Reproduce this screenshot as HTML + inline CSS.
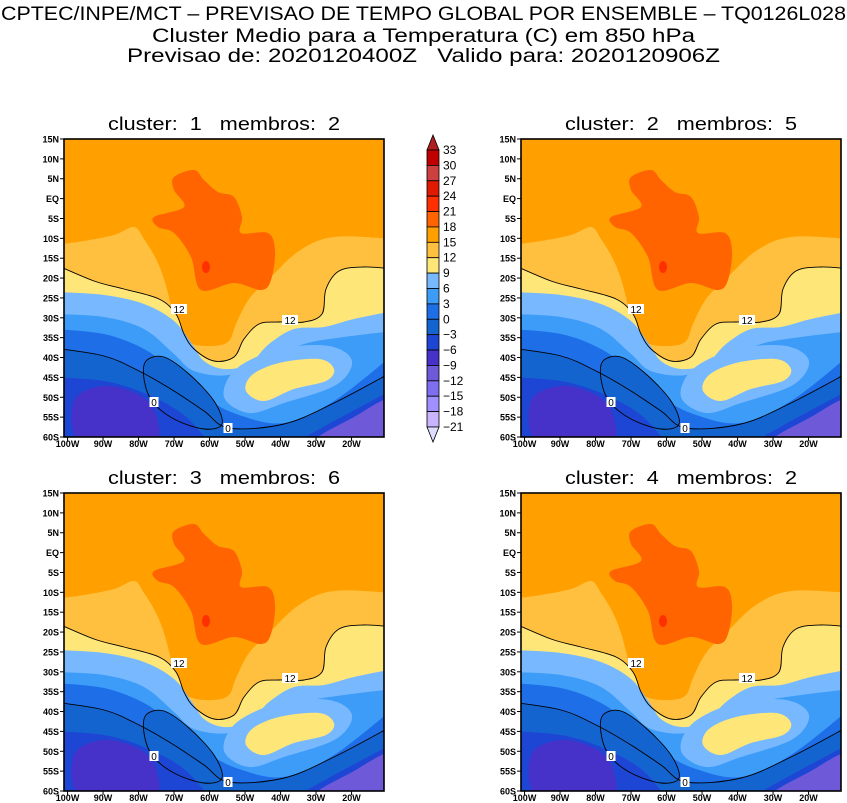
<!DOCTYPE html>
<html><head><meta charset="utf-8"><style>
html,body{margin:0;padding:0;background:#fff;}
svg{display:block;font-family:"Liberation Sans",sans-serif;}
text{white-space:pre;}
</style></head><body>
<svg id="s" width="847" height="803" viewBox="0 0 847 803" xmlns="http://www.w3.org/2000/svg" xml:space="preserve">
<text x="423.5" y="20" text-anchor="middle" font-size="19" textLength="845" lengthAdjust="spacingAndGlyphs">CPTEC/INPE/MCT – PREVISAO DE TEMPO GLOBAL POR ENSEMBLE – TQ0126L028</text>
<text x="423.5" y="42" text-anchor="middle" font-size="19" textLength="543" lengthAdjust="spacingAndGlyphs">Cluster Medio para a Temperatura (C) em 850 hPa</text>
<text x="423.5" y="62" text-anchor="middle" font-size="19" textLength="593" lengthAdjust="spacingAndGlyphs">Previsao de: 2020120400Z   Valido para: 2020120906Z</text>
<g id="panels"></g>
<g id="cbar"></g>
</svg>
<script>
const levels=[33,30,27,24,21,18,15,12,9,6,3,0,-3,-6,-9,-12,-15,-18,-21];
const colors=["#c00000","#cc4040","#e01a00","#ff3000","#ff6400","#ffa000","#ffc040","#ffe678","#78b8ff","#3c9cf8","#1e6ee8","#1464d0","#1e46d4","#4632c8","#6e5ad8","#7e6ef0","#a090ff","#c8b4ff"];
const latTicks=["15N","10N","5N","EQ","5S","10S","15S","20S","25S","30S","35S","40S","45S","50S","55S","60S"];
const lonTicks=["100W","90W","80W","70W","60W","50W","40W","30W","20W"];
const clusters=[1,2,3,4];
const members=[2,5,6,2];
const NS="http://www.w3.org/2000/svg";
function mk(tag,attrs,parent){const e=document.createElementNS(NS,tag);for(const k in attrs)e.setAttribute(k,attrs[k]);if(parent)parent.appendChild(e);return e;}
function smooth(pts,closed){
  let d="M"+pts[0][0]+","+pts[0][1];const n=pts.length;
  for(let i=0;i<(closed?n:n-1);i++){
    const p0=pts[(i-1+n)%n],p1=pts[i],p2=pts[(i+1)%n],p3=pts[(i+2)%n];
    const a=(!closed&&i==0)?p1:p0, b=(!closed&&i+2>=n)?p2:p3;
    d+=" C"+(p1[0]+(p2[0]-a[0])/6).toFixed(1)+","+(p1[1]+(p2[1]-a[1])/6).toFixed(1)+" "+(p2[0]-(b[0]-p1[0])/6).toFixed(1)+","+(p2[1]-(b[1]-p1[1])/6).toFixed(1)+" "+p2[0]+","+p2[1];
  }
  return d+(closed?"Z":"");
}
function below(pts){return smooth(pts,false)+" L330,310 L-10,310 Z";}
const W=320,H=298;
const LO=[[-10,106],[20,102],[50,96],[70,88],[80,100],[92,120],[100,140],[108,170],[115,195],[128,205],[150,207],[165,202],[172,185],[185,160],[205,140],[235,112],[270,98],[330,100]];
const YE=[[-10,125],[30,142],[60,150],[95,160],[112,175],[120,195],[130,210],[150,222],[170,218],[180,200],[195,185],[215,183],[240,183],[258,175],[262,150],[275,132],[300,128],[330,130]];
const LB=[[-10,153],[40,156],[80,165],[110,182],[128,205],[140,222],[160,230],[185,225],[205,205],[230,190],[260,188],[290,180],[330,172]];
const MB=[[-10,175],[40,178],[80,190],[110,215],[130,232],[165,236],[200,222],[240,205],[280,198],[330,192]];
const LBB=[[160,258],[172,230],[215,210],[265,207],[288,222],[272,246],[220,264],[185,274]];
const YB=[[182,252],[188,236],[215,224],[255,220],[270,230],[262,242],[230,250],[200,262]];
const D0=[[-10,190],[40,195],[80,210],[110,232],[140,258],[175,276],[220,284],[270,262],[330,215]];
const DM3=[[-10,209],[40,217],[75,232],[110,252],[140,272],[165,289],[220,285],[270,264],[330,232]];
const LOOP=[[82,222],[100,218],[125,235],[150,262],[158,285],[140,290],[110,280],[88,262],[80,240]];
const DM6=[[-10,238],[40,242],[80,254],[120,276],[150,310]];
const DM6R=[[220,310],[270,282],[330,250]];
const DM9=[[10,262],[40,247],[75,256],[92,276],[88,305],[18,305]];
const DM9R=[[250,305],[290,278],[330,260],[330,305]];
const PUR=[[275,305],[300,284],[330,272],[330,305]];
const OR=[[110,38],[130,31],[140,41],[154,53],[170,58],[178,78],[177,94],[204,94],[211,112],[207,141],[197,151],[170,144],[137,151],[127,118],[110,94],[94,88],[90,78],[120,68],[110,51]];
const pos=[[64,139],[521,139],[64,493],[521,493]];
const panels=document.getElementById("panels");
clusters.forEach((c,i)=>{
  const [ox,oy]=pos[i];
  const g=mk("g",{transform:"translate("+ox+","+oy+")"},panels);
  
  
  const t=mk("text",{x:160,y:-9,"text-anchor":"middle","font-size":"18",textLength:"232",lengthAdjust:"spacingAndGlyphs"},g);
  t.textContent="cluster:  "+c+"   membros:  "+members[i];
  
  
  const cid="cp"+i;
  const cp=mk("clipPath",{id:cid},g);mk("rect",{x:0,y:0,width:W,height:H},cp);
  const m=mk("g",{"clip-path":"url(#"+cid+")"},g);
  
  
  const dy=i>=2?4:0;
  mk("rect",{x:0,y:0,width:W,height:H,fill:colors[5]},m);
  const f=(d,col)=>mk("path",{d:d,fill:col},m);
  f(below(LO),colors[6]);
  f(below(YE.map(p=>[p[0],p[1]+dy])),colors[7]);
  f(below(LB.map(p=>[p[0],p[1]+dy])),colors[8]);
  f(below(MB.map(p=>[p[0],p[1]+dy])),colors[9]);
  f(smooth(LBB,true),colors[8]);
  f(smooth(YB,true),colors[7]);
  f(below(D0),colors[10]);
  f(below(DM3),colors[11]);
  f(smooth(LOOP,true),colors[11]);
  f(below(DM6),colors[12]);
  f(below(DM6R),colors[12]);
  f(smooth(DM9,true),colors[13]);
  f(smooth(DM9R,true),colors[14]);
  f(smooth(PUR,true),colors[14]);
  f(smooth(OR,true),colors[4]);
  mk("ellipse",{cx:142,cy:128,rx:4,ry:6,fill:colors[3]},m);
  mk("path",{d:smooth(YE.map(p=>[p[0],p[1]+dy]),false),fill:"none",stroke:"#000","stroke-width":"0.9"},m);
  mk("path",{d:smooth(DM3,false),fill:"none",stroke:"#000","stroke-width":"0.9"},m);
  mk("path",{d:smooth(LOOP,true),fill:"none",stroke:"#000","stroke-width":"0.9"},m);
  [[115,170,"12"],[226,181+dy,"12"],[90,263,"0"],[164,289,"0"]].forEach(l=>{
    mk("rect",{x:l[0]-(l[2].length*3.5+1),y:l[1]-5,width:l[2].length*7+2,height:10,fill:"#fff"},m);
    const tt=mk("text",{x:l[0],y:l[1]+4,"text-anchor":"middle","font-size":"10"},m);tt.textContent=l[2];
  });
  const fr=mk("rect",{x:0,y:0,width:W,height:H,fill:"none",stroke:"#000","stroke-width":"1.6"},g);
  
  
  latTicks.forEach((lb,k)=>{
    const y=k*(H/15);
    mk("line",{x1:-4,x2:0,y1:y,y2:y,stroke:"#000"},g);
    const tx=mk("text",{x:-5,y:y+3.5,"text-anchor":"end","font-size":"9","font-weight":"bold"},g);tx.textContent=lb;
    
    
  });
  lonTicks.forEach((lb,k)=>{
    const x=(k*10+1)*3.55;
    mk("line",{x1:x,x2:x,y1:H,y2:H+4,stroke:"#000"},g);
    const tx=mk("text",{x:x,y:H+10,"text-anchor":"middle","font-size":"9","font-weight":"bold"},g);tx.textContent=lb;
    
    
  });
});
const cb=document.getElementById("cbar");
const cx0=427,cw=12,cy0=150,cy1=427,bh=(cy1-cy0)/colors.length;
mk("path",{d:"M"+cx0+","+cy0+" L"+(cx0+cw/2)+",135 L"+(cx0+cw)+","+cy0+"Z",fill:"#b02020",stroke:"#000","stroke-width":"0.8"},cb);
colors.forEach((c,k)=>{
  const r=mk("rect",{x:cx0,y:cy0+k*bh,width:cw,height:bh,fill:c,stroke:"#000","stroke-width":"0.8"},cb);
  
  
});
mk("path",{d:"M"+cx0+","+cy1+" L"+(cx0+cw/2)+",442 L"+(cx0+cw)+","+cy1+"Z",fill:"#dcdcff",stroke:"#000","stroke-width":"0.8"},cb);
levels.forEach((v,k)=>{
  const t=mk("text",{x:443,y:cy0+k*bh+4,"font-size":"12"},cb);
  t.textContent=(v<0?"−":"")+Math.abs(v);
  
  
});
</script>
</body></html>
